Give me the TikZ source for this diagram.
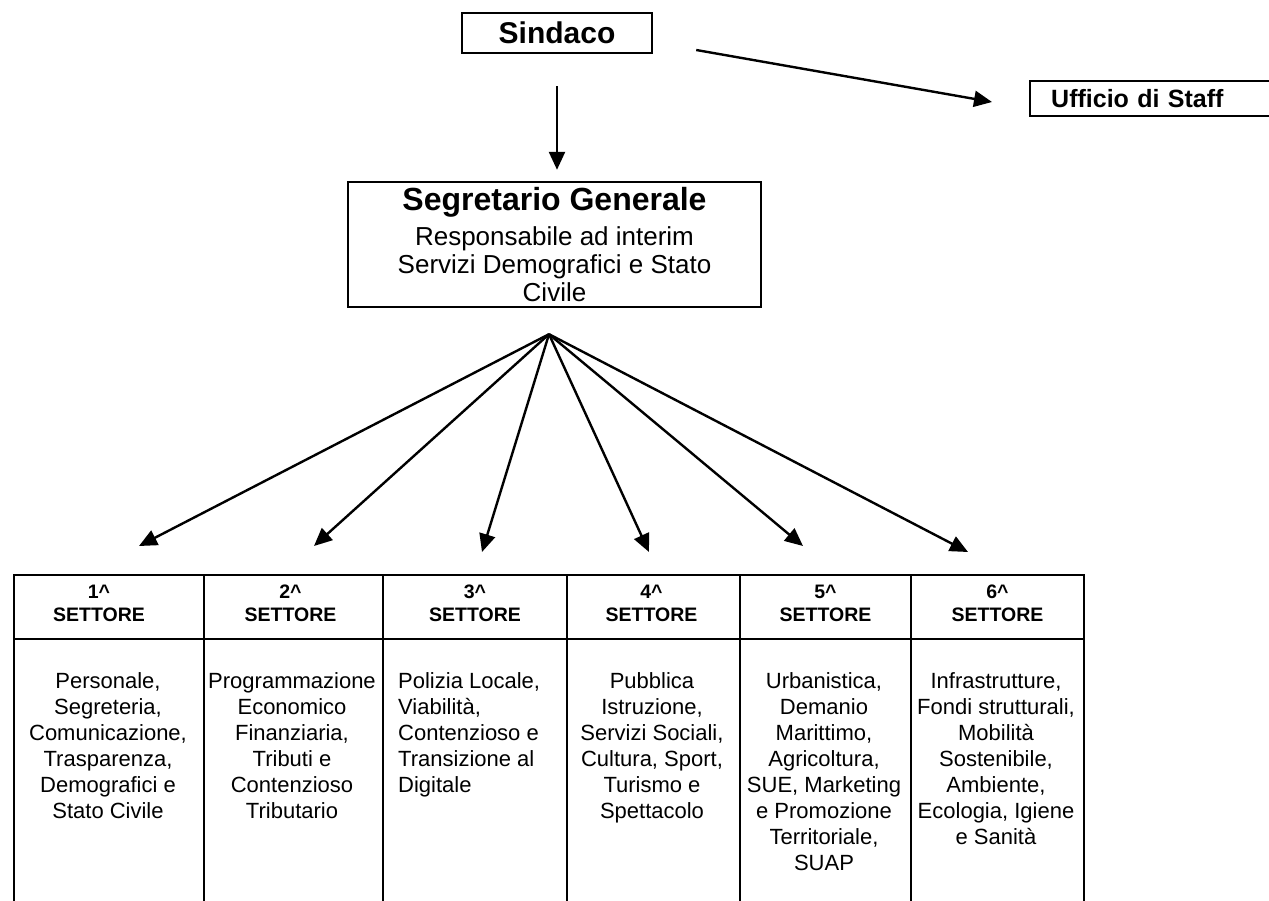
\documentclass[tikz,border=0pt]{standalone}
\usepackage{fontspec}
\setmainfont{Liberation Sans}
\usetikzlibrary{arrows.meta}

\begin{document}
\begin{tikzpicture}[
  x=1pt, y=-1pt, line width=2.4pt,
  box/.style={draw, line width=2.4pt, inner sep=0pt},
  head/.style={font=\bfseries\fontsize{19.5}{23}\selectfont, align=center, inner sep=0pt},
  body/.style={font=\fontsize{22}{26}\selectfont, inner sep=0pt, anchor=north},
  link/.style={-{Triangle[length=18pt, width=16pt]}, line width=2.4pt},
]
\useasboundingbox (0,0) rectangle (1269,901);

% top level
\node[box, minimum width=190pt, minimum height=40pt,
  font=\bfseries\fontsize{30}{34}\selectfont] (sindaco) at (557,33) {Sindaco};
\node[box, anchor=west, text width=219pt, inner xsep=21pt, minimum height=35pt,
  align=left, font=\bfseries\fontsize{25}{28}\selectfont] (staff) at (1029,98.5) {Ufficio di Staff};
\node[box, minimum width=413pt, minimum height=125pt, align=center,
  font=\fontsize{26}{28}\selectfont] (segr) at (554.5,244.5)
  {{\bfseries\fontsize{32}{34}\selectfont Segretario Generale}\\[7pt]
   Responsabile ad interim\\ Servizi Demografici e Stato\\ Civile};

\coordinate (segtop) at ([yshift=11pt]segr.north);
\draw[link] ([xshift=43pt, yshift=-17pt]sindaco.east) -- ([xshift=-37pt, yshift=-3.5pt]staff.west);
\draw[link] ([yshift=-32pt]sindaco.south) -- (segtop -| sindaco.south);

% settori
\coordinate (hub) at ([xshift=-5.5pt, yshift=-26pt]segr.south);
\foreach \i/\tx/\ty in {1/139/546, 2/314/546, 3/482/552, 4/649/552, 5/803/546, 6/968/552} {
  \coordinate (tip\i) at (\tx,\ty);
  \draw[link] (hub) -- (tip\i);
}

\foreach \i/\xl/\xr/\dx in {1/14/204/-10, 2/204/383/-3, 3/383/567/0, 4/567/740/-2, 5/740/911/0, 6/911/1084/0} {
  \node[box, minimum width={\xr-\xl}, minimum height=64pt] (cell\i) at ({(\xl+\xr)/2},607) {};
  \node[head] (h\i) at ({(\xl+\xr)/2+\dx},603.5) {\i\textasciicircum\\SETTORE};
  \draw (\xl,639) -- (\xl,910);
  \draw (\xr,639) -- (\xr,910);
}

\node[body, align=center] (s1) at (108,671) {Personale,\\Segreteria,\\Comunicazione,\\Trasparenza,\\Demografici e\\Stato Civile};
\node[body, align=center] (s2) at (292,671) {Programmazione\\Economico\\Finanziaria,\\Tributi e\\Contenzioso\\Tributario};
\node[body, align=left, anchor=north west] (s3) at (397,671) {Polizia Locale,\\Viabilità,\\Contenzioso e\\Transizione al\\Digitale};
\node[body, align=center] (s4) at (652,671) {Pubblica\\Istruzione,\\Servizi Sociali,\\Cultura, Sport,\\Turismo e\\Spettacolo};
\node[body, align=center] (s5) at (824,671) {Urbanistica,\\Demanio\\Marittimo,\\Agricoltura,\\SUE, Marketing\\e Promozione\\Territoriale,\\SUAP};
\node[body, align=center] (s6) at (996,671) {Infrastrutture,\\Fondi strutturali,\\Mobilità\\Sostenibile,\\Ambiente,\\Ecologia, Igiene\\e Sanità};
\end{tikzpicture}
\end{document}
